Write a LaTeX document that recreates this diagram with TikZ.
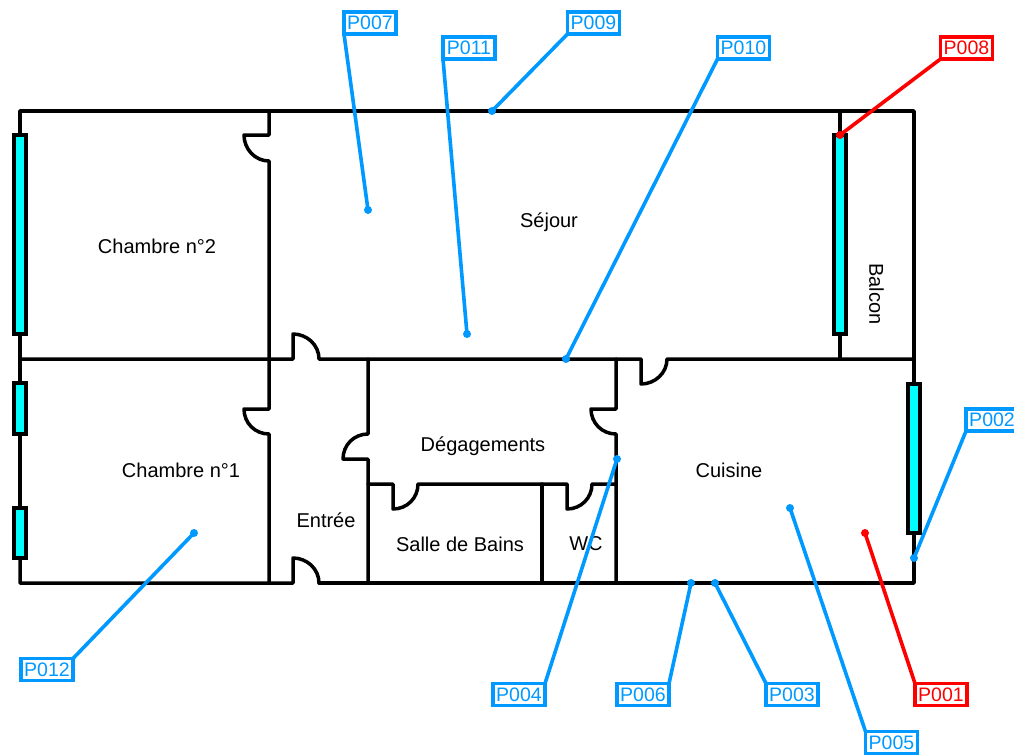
\documentclass[tikz,border=0pt]{standalone}
\usepackage{fontspec}
\setmainfont{Liberation Sans}
\definecolor{refblue}{RGB}{0,153,255}
\definecolor{refred}{RGB}{255,0,0}
\definecolor{win}{RGB}{0,255,255}
\tikzset{
  wall/.style={draw=black,line width=3.5pt,line join=round,line cap=round},
  window/.style={draw=black,fill=win,line width=3.5pt},
  room/.style={font=\fontsize{20}{23}\selectfont,text=black,inner sep=0pt},
  tag/.style={draw=#1,fill=white,text=#1,line width=3.5pt,minimum width=52pt,minimum height=22pt,inner sep=0pt,outer sep=0pt,font=\fontsize{19.5}{22}\selectfont},
  pin/.style={circle,fill=#1,minimum size=8pt,inner sep=0pt,outer sep=0pt},
  lead/.style={draw=#1,line width=3.6pt}
}
\begin{document}
\begin{tikzpicture}[x=1pt,y=-1pt]
\useasboundingbox (0,0) rectangle (1014,755);
\fill[white] (0,0) rectangle (1014,755);
% outer walls and partitions
\draw[wall] (20,135) -- (20,111) -- (914,111) -- (914,384);
\draw[wall] (914,533) -- (914,583) -- (319,583);
\draw[wall] (319,583) .. controls (319,569) and (307,558) .. (293,558) -- (293,583) -- (20,583) -- (20,558);
\draw[wall] (20,508) -- (20,434);
\draw[wall] (20,383) -- (20,334);
% y=359 partition
\draw[wall] (20,359) -- (293,359) -- (293,334) .. controls (307,334) and (319,345) .. (319,359) -- (641,359) -- (641,384) .. controls (655,384) and (667,373) .. (667,359) -- (914,359);
% x=269 partition
\draw[wall] (269,111) -- (269,135) -- (244,135) .. controls (244,149) and (255,161) .. (269,161) -- (269,409) -- (244,409) .. controls (244,423) and (255,434) .. (269,434) -- (269,583);
% x=368 partition
\draw[wall] (368,359) -- (368,434) .. controls (354,434) and (343,445) .. (343,459) -- (368,459) -- (368,583);
% y=484 partition
\draw[wall] (368,484) -- (393,484) -- (393,509) .. controls (407,509) and (418,498) .. (418,484) -- (567,484) -- (567,509) .. controls (581,509) and (592,498) .. (592,484) -- (616,484);
\draw[wall] (542,484) -- (542,583);
% x=616 partition
\draw[wall] (616,359) -- (616,409) -- (591,409) .. controls (591,423) and (602,434) .. (616,434) -- (616,583);
% balcony
\draw[wall] (840,111) -- (840,135);
\draw[wall] (840,334) -- (840,359);
% windows
\draw[window] (14,135) rectangle (26,334);
\draw[window] (14,383) rectangle (26,434);
\draw[window] (14,508) rectangle (26,558);
\draw[window] (834,135) rectangle (846,334);
\draw[window] (908,384) rectangle (920,533);
% rooms
\node[room] (r1) at (157,246) {Chambre n°2};
\node[room] (r2) at (549,222) {Séjour};
\node[room] (r3) at (181,470) {Chambre n°1};
\node[room] (r4) at (483,446) {Dégagements};
\node[room] (r5) at (729,470) {Cuisine};
\node[room] (r6) at (326,520) {Entrée};
\node[room] (r7) at (460,544) {Salle de Bains};
\node[room] (r8) at (586,544) {WC};
\node[room,rotate=-90] (r9) at (876.5,294) {Balcon};
% pins
\node[pin=refred] (d1) at (865,533) {};
\node[pin=refblue] (d2) at (914,558) {};
\node[pin=refblue] (d3) at (715,583) {};
\node[pin=refblue] (d4) at (617,459) {};
\node[pin=refblue] (d5) at (790,508) {};
\node[pin=refblue] (d6) at (691,583) {};
\node[pin=refblue] (d7) at (368,210) {};
\node[pin=refred] (d8) at (840,135) {};
\node[pin=refblue] (d9) at (492,111) {};
\node[pin=refblue] (d10) at (566,359) {};
\node[pin=refblue] (d11) at (467,334) {};
\node[pin=refblue] (d12) at (194,533) {};
% tags
\node[tag=refred] (p1) at (941,694.5) {P001};
\node[tag=refblue] (p2) at (992,420) {P002};
\node[tag=refblue] (p3) at (792,694.5) {P003};
\node[tag=refblue] (p4) at (519,694.5) {P004};
\node[tag=refblue] (p5) at (891.5,742.5) {P005};
\node[tag=refblue] (p6) at (643,694.5) {P006};
\node[tag=refblue] (p7) at (370,23) {P007};
\node[tag=refred] (p8) at (966.5,48) {P008};
\node[tag=refblue] (p9) at (593.5,23) {P009};
\node[tag=refblue] (p10) at (743.5,48) {P010};
\node[tag=refblue] (p11) at (469,48) {P011};
\node[tag=refblue] (p12) at (47,669.5) {P012};
% leaders
\draw[lead=refred] (p1.north west) -- (d1.center);
\draw[lead=refblue] (p2.south west) -- (d2.center);
\draw[lead=refblue] (p3.north west) -- (d3.center);
\draw[lead=refblue] (p4.north east) -- (d4.center);
\draw[lead=refblue] (p5.north west) -- (d5.center);
\draw[lead=refblue] (p6.north east) -- (d6.center);
\draw[lead=refblue] (p7.south west) -- (d7.center);
\draw[lead=refred] (p8.south west) -- (d8.center);
\draw[lead=refblue] (p9.south west) -- (d9.center);
\draw[lead=refblue] (p10.south west) -- (d10.center);
\draw[lead=refblue] (p11.south west) -- (d11.center);
\draw[lead=refblue] (p12.north east) -- (d12.center);
\end{tikzpicture}
\end{document}
